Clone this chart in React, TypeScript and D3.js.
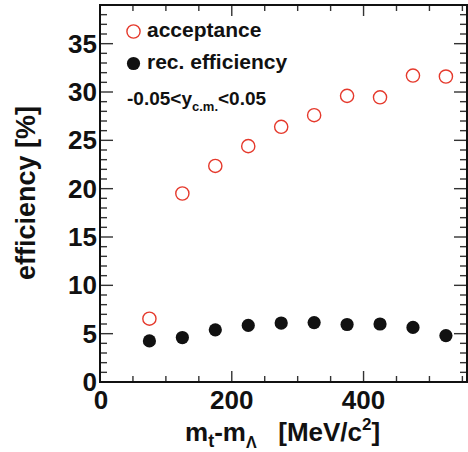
import React from 'react';
import * as d3 from 'd3';

// bin centres in mt - m_Lambda (MeV/c^2)
const mtBins = [75, 125, 175, 225, 275, 325, 375, 425, 475, 525];
const acceptance = [6.55, 19.5, 22.35, 24.4, 26.4, 27.6, 29.6, 29.45, 31.7, 31.6];
const recEfficiency = [4.25, 4.6, 5.4, 5.85, 6.1, 6.15, 5.95, 6.0, 5.65, 4.8];
const xTickLabels = [0, 200, 400];
const yTickLabels = [0, 5, 10, 15, 20, 25, 30, 35];

const W = 468;
const H = 452;
const font = '"Liberation Sans", Arial, sans-serif';
const red = '#e5392c';
const ink = '#111';

const App = () => {
  const x = d3.scaleLinear().domain([0, 557]).range([100, 467]);
  const y = d3.scaleLinear().domain([0, 39]).range([382, 5]);
  const [x0, x1] = x.range();
  const [y0, y1] = y.range();

  const xMinor = d3.range(0, 557, 50);
  const yMinor = d3.range(0, 40, 1);

  return (
    <svg width={W} height={H} style={{ position: 'absolute', left: 0, top: 0, background: '#fff' }}
      fontFamily={font} fontWeight="bold">
      {/* ticks */}
      <g stroke="#333" strokeWidth={1.4}>
        {xMinor.map((v) => {
          const major = v % 200 === 0;
          return (
            <g key={'x' + v}>
              <line x1={x(v)} x2={x(v)} y1={y0} y2={y0 - (major ? 11 : 6)} />
              <line x1={x(v)} x2={x(v)} y1={y1} y2={y1 + (major ? 11 : 6)} />
            </g>
          );
        })}
        {yMinor.map((v) => {
          const major = v % 5 === 0;
          return (
            <g key={'y' + v}>
              <line x1={x0} x2={x0 + (major ? 13 : 7)} y1={y(v)} y2={y(v)} />
              <line x1={x1} x2={x1 - (major ? 13 : 7)} y1={y(v)} y2={y(v)} />
            </g>
          );
        })}
      </g>
      <rect x={x0} y={y1} width={x1 - x0} height={y0 - y1} fill="none" stroke={ink} strokeWidth={2} />

      {/* tick labels */}
      <g fontSize={26} fill={ink}>
        {xTickLabels.map((v) => (
          <text key={'xl' + v} x={x(v) + (v === 0 ? 1 : 0)} y={409} textAnchor="middle">{v}</text>
        ))}
        {yTickLabels.map((v) => (
          <text key={'yl' + v} x={97} y={y(v) + 9} textAnchor="end">{v}</text>
        ))}
      </g>

      {/* axis titles */}
      <text x={185} y={441} fontSize={26} fill={ink}>
        m<tspan fontSize={18} dy={6}>t</tspan>
        <tspan dy={-6}>-m</tspan>
        <tspan fontSize={16} dy={7}>Λ</tspan>
        <tspan dy={-7} xmlSpace="preserve">{'   [MeV/c'}</tspan>
        <tspan fontSize={17} dy={-11}>2</tspan>
        <tspan dy={11}>]</tspan>
      </text>
      <text transform="translate(35,193) rotate(-90)" textAnchor="middle" fontSize={27} fill={ink}>
        efficiency [%]
      </text>

      {/* data */}
      {mtBins.map((v, i) => (
        <circle key={'a' + i} cx={x(v)} cy={y(acceptance[i])} r={6.6} fill="none" stroke={red} strokeWidth={1.4} />
      ))}
      {mtBins.map((v, i) => (
        <circle key={'r' + i} cx={x(v)} cy={y(recEfficiency[i])} r={6.6} fill={ink} />
      ))}

      {/* legend */}
      <circle cx={133.5} cy={31.5} r={6.6} fill="none" stroke={red} strokeWidth={1.4} />
      <text x={147} y={37} fontSize={21} fill={ink}>acceptance</text>
      <circle cx={133.5} cy={63.5} r={6.6} fill={ink} />
      <text x={147} y={69} fontSize={21} fill={ink}>rec. efficiency</text>
      <text x={127} y={105} fontSize={19} fill={ink}>
        -0.05&lt;y<tspan fontSize={13} dy={6}>c.m.</tspan>
        <tspan dy={-6}>&lt;0.05</tspan>
      </text>
    </svg>
  );
};

export default App;
